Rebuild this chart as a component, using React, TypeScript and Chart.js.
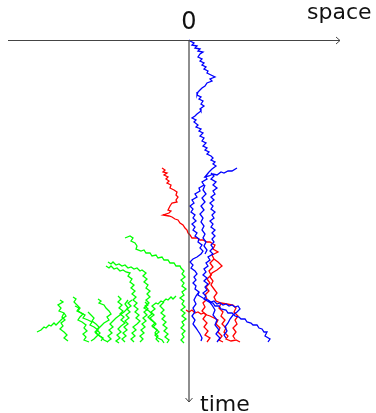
import { useEffect, useRef } from "react";
import { Chart, registerables } from "chart.js";

Chart.register(...registerables);

type P = [number, number]; // [space, time]

// ---- axis extent & labels ----
const SPACE_MIN = -189;
const SPACE_MAX = 187;
const TIME_MIN = -40;
const TIME_MAX = 373;
const SPACE_AXIS_FROM = -181;
const SPACE_AXIS_TO = 151;
const TIME_AXIS_TO = 362;
const originLabel = "0";
const spaceLabel = "space";
const timeLabel = "time";

// ---- blue paths ----
const blueTrunk: P[] = [
  [0, 0], [1, 1], [5, 3], [3, 5], [8, 6], [6, 8], [11, 9], [9, 11], [14, 12], [11, 14], [9, 17], [13, 19],
  [11, 21], [15, 23], [13, 25], [17, 27], [15, 29], [19, 31], [18, 33], [22, 35], [26, 37], [21, 39],
  [23, 41], [18, 43], [16, 46], [13, 48], [11, 50], [9, 52], [8, 55], [12, 57], [10, 59], [14, 61],
  [12, 64], [15, 66], [11, 69], [12, 71], [8, 74], [6, 76], [3, 78], [7, 80], [5, 82], [9, 85], [7, 87],
  [12, 89], [10, 91], [14, 93], [11, 96], [15, 98], [13, 101], [17, 103], [14, 106], [18, 108], [16, 110],
  [20, 112], [18, 114], [22, 116], [24, 118], [22, 120], [26, 122], [24, 124], [27, 126], [23, 129], [20, 132],
];
const blueSpur: P[] = [
  [20, 132], [16, 137], [20, 136], [24, 134], [28, 135], [32, 132], [35, 133], [39, 131], [43, 131], [48, 128],
];
const blueLeft: P[] = [
  [16, 136], [18, 139], [13, 142], [15, 145], [10, 148], [11, 151], [6, 154], [8, 157], [3, 160], [5, 163],
  [1, 166], [4, 169], [2, 172], [6, 175], [4, 178], [7, 181], [3, 184], [6, 187], [4, 190], [8, 193],
  [6, 196], [10, 199], [9, 202], [13, 205], [11, 208], [14, 211], [12, 214], [8, 217], [4, 219], [1, 222],
  [4, 225], [2, 228], [6, 231], [8, 234], [5, 237], [7, 240], [4, 243], [7, 246], [6, 249], [10, 252],
  [9, 255], [14, 258], [19, 260], [22, 262], [25, 261], [28, 264], [31, 263], [34, 265], [37, 264],
  [40, 266], [43, 265], [46, 267], [49, 266], [51, 269], [48, 272], [44, 275], [41, 279], [39, 283],
  [36, 287], [38, 291], [35, 295], [37, 298],
];
const blueRight: P[] = [
  [22, 133], [25, 136], [22, 139], [27, 142], [24, 145], [28, 148], [24, 151], [26, 154], [22, 157], [25, 160],
  [21, 163], [24, 166], [22, 169], [26, 172], [23, 175], [25, 178], [21, 181], [24, 184], [22, 187], [26, 190],
  [23, 193], [26, 196], [23, 199], [25, 202], [22, 205], [24, 208], [21, 211], [24, 214], [19, 217], [21, 220],
  [17, 223], [19, 226], [15, 229], [17, 232], [14, 235], [18, 238], [15, 241], [19, 244], [16, 247], [18, 250],
  [14, 253], [17, 256], [15, 259], [20, 262], [24, 263], [26, 266], [30, 266], [32, 269], [37, 270], [39, 273],
  [43, 273], [46, 276], [50, 277], [52, 279], [56, 279], [58, 282], [62, 283], [64, 285], [68, 285], [70, 288],
  [73, 289], [75, 292], [78, 292], [76, 296], [81, 299], [79, 302],
];
const blueMiddle: P[] = [
  [16, 145], [14, 150], [17, 154], [13, 158], [16, 162], [12, 166], [15, 170], [11, 174], [14, 178], [12, 182],
  [15, 186], [13, 190], [16, 194], [14, 198], [17, 202], [15, 206], [18, 210], [16, 214],
];
const blueLow1: P[] = [
  [10, 252], [7, 256], [5, 260], [7, 264], [4, 268], [6, 272], [3, 276], [6, 280], [4, 284], [7, 288],
  [9, 291], [11, 294], [13, 298], [12, 301],
];
const blueLow2: P[] = [
  [19, 260], [23, 265], [26, 270], [24, 275], [28, 280], [26, 285], [30, 290], [27, 294], [31, 298], [28, 302],
];

// ---- red paths ----
const redMain: P[] = [
  [-27, 128], [-24, 130], [-26, 132], [-22, 133], [-25, 135], [-21, 137], [-23, 139], [-20, 141], [-22, 143],
  [-18, 145], [-19, 148], [-15, 150], [-12, 152], [-13, 155], [-11, 157], [-13, 160], [-12, 162], [-17, 163],
  [-19, 166], [-21, 170], [-18, 171], [-20, 173], [-26, 175], [-20, 176], [-17, 177], [-14, 179], [-11, 180],
  [-9, 183], [-6, 185], [-4, 188], [-2, 190], [-1, 193], [1, 195], [3, 198], [8, 198], [11, 200], [14, 200],
  [18, 202], [21, 202], [24, 204], [26, 205], [24, 209], [29, 212], [23, 215], [25, 219], [29, 222], [33, 226],
  [28, 230], [23, 233], [21, 237], [24, 241], [22, 245], [25, 249], [28, 253], [25, 257], [27, 261], [32, 263],
  [38, 264], [44, 265], [47, 268], [45, 272], [49, 276], [46, 280], [48, 284], [44, 288], [47, 292], [44, 296],
  [46, 299],
];
const redInner: P[] = [
  [25, 219], [21, 223], [24, 227], [20, 231], [22, 235], [18, 239], [21, 243], [17, 247], [20, 251], [16, 255],
  [18, 259], [14, 263], [16, 267], [13, 271], [17, 275], [14, 279], [18, 283], [15, 287], [19, 291], [16, 295],
  [21, 298], [18, 302],
];
const redCross: P[] = [
  [-3, 270], [0, 272], [3, 270], [6, 273], [9, 272], [12, 274], [15, 273], [18, 275], [21, 276], [25, 278],
  [29, 280], [27, 284], [31, 288], [29, 292], [33, 296], [30, 300], [34, 302],
];
const redOuter: P[] = [
  [32, 263], [30, 268], [34, 272], [32, 276], [36, 280], [33, 284], [37, 288], [35, 292], [39, 296], [37, 299],
  [42, 301], [47, 300], [51, 302],
];

// ---- green paths ----
const greenTop: P[] = [
  [-64, 198], [-59, 196], [-56, 198], [-58, 201], [-54, 203], [-52, 206], [-53, 209], [-48, 211], [-45, 210],
  [-43, 213], [-39, 213], [-37, 216], [-33, 215], [-31, 218], [-27, 217], [-25, 220], [-21, 220], [-19, 223],
  [-15, 223], [-13, 226], [-9, 226], [-8, 228], [-5, 231], [-7, 234], [-4, 237], [-8, 240], [-5, 243],
  [-7, 246], [-3, 249], [-7, 252], [-5, 255], [-9, 258], [-5, 261], [-7, 264], [-4, 267], [-8, 270], [-4, 273],
  [-7, 276], [-3, 279], [-7, 282], [-5, 285], [-8, 288], [-4, 291], [-7, 294], [-5, 297], [-8, 300], [-5, 303],
];
const greenA: P[] = [
  [-81, 222], [-78, 224], [-76, 222], [-73, 225], [-70, 224], [-67, 226], [-64, 225], [-61, 228], [-58, 227],
  [-55, 229], [-52, 228], [-49, 231], [-47, 230], [-43, 233], [-46, 236], [-42, 239], [-45, 242], [-41, 245],
  [-43, 248], [-39, 251], [-42, 254], [-39, 257], [-43, 260], [-40, 263], [-44, 266], [-41, 269], [-45, 272],
  [-42, 275], [-46, 278], [-43, 281], [-47, 284], [-44, 287], [-48, 290], [-45, 293], [-49, 296], [-46, 299],
  [-49, 302],
];
const greenB: P[] = [
  [-83, 226], [-80, 228], [-78, 226], [-75, 229], [-72, 228], [-69, 231], [-66, 230], [-63, 232], [-59, 233],
  [-61, 236], [-57, 239], [-59, 242], [-55, 245], [-58, 248], [-54, 251], [-57, 254], [-53, 257], [-56, 260],
  [-52, 263], [-55, 266], [-51, 269], [-54, 272], [-50, 275], [-53, 278], [-49, 281], [-52, 284], [-56, 287],
  [-53, 290], [-57, 293], [-54, 296], [-58, 299], [-55, 302],
];
const greenC: P[] = [
  [-13, 256], [-16, 259], [-18, 257], [-21, 260], [-23, 259], [-26, 262], [-28, 261], [-31, 264], [-33, 263],
  [-37, 266], [-34, 269], [-38, 272], [-35, 275], [-39, 278], [-36, 281], [-33, 284], [-36, 287], [-32, 290],
  [-34, 293], [-31, 296], [-33, 299], [-30, 302],
];
const greenD: P[] = [
  [-25, 262], [-29, 266], [-25, 270], [-28, 273], [-24, 276], [-27, 279], [-23, 282], [-26, 285], [-22, 288],
  [-25, 291], [-21, 294], [-24, 297], [-20, 300], [-22, 303],
];
const greenFarLeft: P[] = [
  [-129, 260], [-126, 262], [-131, 265], [-128, 268], [-130, 271], [-125, 273], [-123, 276], [-127, 279],
  [-130, 282], [-133, 285], [-135, 283], [-138, 286], [-140, 285], [-143, 288], [-145, 287], [-148, 290],
  [-152, 292],
];
const greenE: P[] = [
  [-125, 273], [-127, 277], [-124, 280], [-128, 283], [-126, 286], [-129, 289], [-125, 292], [-122, 295],
  [-125, 298], [-121, 301],
];
const greenF: P[] = [
  [-116, 257], [-113, 259], [-115, 262], [-112, 265], [-109, 268], [-111, 271], [-106, 274], [-109, 277],
  [-111, 280], [-107, 282], [-103, 285], [-105, 288], [-102, 291], [-106, 294], [-103, 297], [-105, 300],
  [-100, 302],
];
const greenG: P[] = [
  [-91, 259], [-88, 261], [-90, 263], [-85, 265], [-83, 268], [-80, 271], [-78, 274], [-82, 277], [-80, 280],
  [-85, 283], [-88, 286], [-91, 289], [-94, 292], [-91, 295], [-88, 297], [-85, 300], [-81, 302],
];
const greenH: P[] = [
  [-71, 256], [-68, 259], [-71, 262], [-67, 265], [-70, 268], [-66, 271], [-69, 274], [-65, 277], [-68, 280],
  [-64, 283], [-68, 286], [-71, 289], [-68, 292], [-72, 295], [-69, 298], [-73, 301], [-70, 303],
];
const greenI: P[] = [
  [-61, 260], [-64, 264], [-61, 268], [-65, 272], [-69, 275], [-73, 278], [-76, 281], [-79, 284], [-76, 287],
  [-80, 290], [-77, 293], [-81, 296], [-78, 299], [-82, 302],
];
const greenJ: P[] = [
  [-101, 272], [-98, 275], [-95, 278], [-97, 281], [-93, 284], [-90, 287], [-92, 290], [-89, 293], [-92, 296],
  [-95, 299], [-98, 301],
];
const greenK: P[] = [
  [-57, 260], [-61, 263], [-58, 266], [-62, 269], [-59, 272], [-63, 275], [-60, 278], [-64, 281], [-61, 284],
  [-65, 287], [-62, 290], [-66, 293], [-63, 296], [-67, 299], [-64, 302],
];
const greenL: P[] = [
  [-44, 262], [-41, 265], [-45, 268], [-40, 271], [-37, 274], [-41, 277], [-38, 280], [-34, 283], [-37, 286],
  [-33, 289], [-30, 292], [-34, 295], [-31, 298], [-27, 300], [-25, 303],
];
const greenM: P[] = [
  [-114, 266], [-110, 268], [-112, 271], [-108, 273], [-104, 275], [-106, 278], [-101, 280], [-97, 282],
  [-99, 285], [-95, 287], [-91, 290], [-93, 293], [-89, 296], [-86, 298], [-88, 301],
];

const bluePaths = [blueTrunk, blueSpur, blueLeft, blueRight, blueMiddle, blueLow1, blueLow2];
const redPaths = [redMain, redInner, redCross, redOuter];
const greenPaths = [
  greenTop, greenA, greenB, greenC, greenD, greenFarLeft, greenE, greenF, greenG, greenH, greenI, greenJ,
  greenK, greenL, greenM,
];

const BLUE = "#0000ff";
const RED = "#ff0000";
const GREEN = "#00ff00";
const AXIS = "#444444";
const FONT = '22px "DejaVu Sans"';
const FONT_ORIGIN = '24px "DejaVu Sans"';

const axesPlugin = {
  id: "axesPlugin",
  afterDatasetsDraw(chart: any) {
    const { ctx } = chart;
    const xs = chart.scales.x;
    const ys = chart.scales.y;
    const x0 = xs.getPixelForValue(0);
    const y0 = ys.getPixelForValue(0);
    const xStart = xs.getPixelForValue(SPACE_AXIS_FROM);
    const xEnd = xs.getPixelForValue(SPACE_AXIS_TO);
    const yEnd = ys.getPixelForValue(TIME_AXIS_TO);
    ctx.save();
    ctx.strokeStyle = AXIS;
    ctx.lineWidth = 1.2;
    ctx.beginPath();
    ctx.moveTo(xStart, y0 + 0.5);
    ctx.lineTo(xEnd, y0 + 0.5);
    ctx.moveTo(x0, y0);
    ctx.lineTo(x0, yEnd);
    ctx.stroke();
    ctx.lineWidth = 1;
    ctx.beginPath();
    ctx.moveTo(xEnd - 4, y0 + 0.5 - 3.5);
    ctx.lineTo(xEnd, y0 + 0.5);
    ctx.lineTo(xEnd - 4, y0 + 0.5 + 3.5);
    ctx.moveTo(x0 - 3.5, yEnd - 4);
    ctx.lineTo(x0, yEnd);
    ctx.lineTo(x0 + 3.5, yEnd - 4);
    ctx.stroke();
    ctx.fillStyle = "#111111";
    ctx.textBaseline = "alphabetic";
    ctx.textAlign = "center";
    ctx.font = FONT_ORIGIN;
    ctx.fillText(originLabel, x0, y0 - 11);
    ctx.font = FONT;
    ctx.textAlign = "left";
    ctx.fillText(spaceLabel, xEnd - 33, y0 - 21);
    ctx.fillText(timeLabel, x0 + 11, yEnd + 9);
    ctx.restore();
  },
};

export default function App() {
  const ref = useRef<HTMLCanvasElement | null>(null);
  useEffect(() => {
    if (!ref.current) return;
    const mk = (paths: P[][], color: string) =>
      paths.map((p) => ({
        data: p.map(([x, y]) => ({ x, y })),
        showLine: true,
        borderColor: color,
        backgroundColor: color,
        borderWidth: 1.3,
        pointRadius: 0,
        pointHoverRadius: 0,
        fill: false,
        tension: 0,
      }));
    const chart = new Chart(ref.current, {
      type: "scatter",
      data: {
        datasets: [...mk(bluePaths, BLUE), ...mk(redPaths, RED), ...mk(greenPaths, GREEN)],
      },
      plugins: [axesPlugin],
      options: {
        animation: false,
        responsive: false,
        devicePixelRatio: 1,
        layout: { padding: 0 },
        plugins: { legend: { display: false }, tooltip: { enabled: false } },
        events: [],
        scales: {
          x: { type: "linear", min: SPACE_MIN, max: SPACE_MAX, display: false },
          y: { type: "linear", min: TIME_MIN, max: TIME_MAX, reverse: true, display: false },
        },
      },
    } as any);
    return () => chart.destroy();
  }, []);
  return (
    <div style={{ position: "fixed", left: 0, top: 0, width: 376, height: 413, background: "#fff" }}>
      <canvas ref={ref} width={376} height={413} style={{ width: 376, height: 413, display: "block" }} />
    </div>
  );
}
